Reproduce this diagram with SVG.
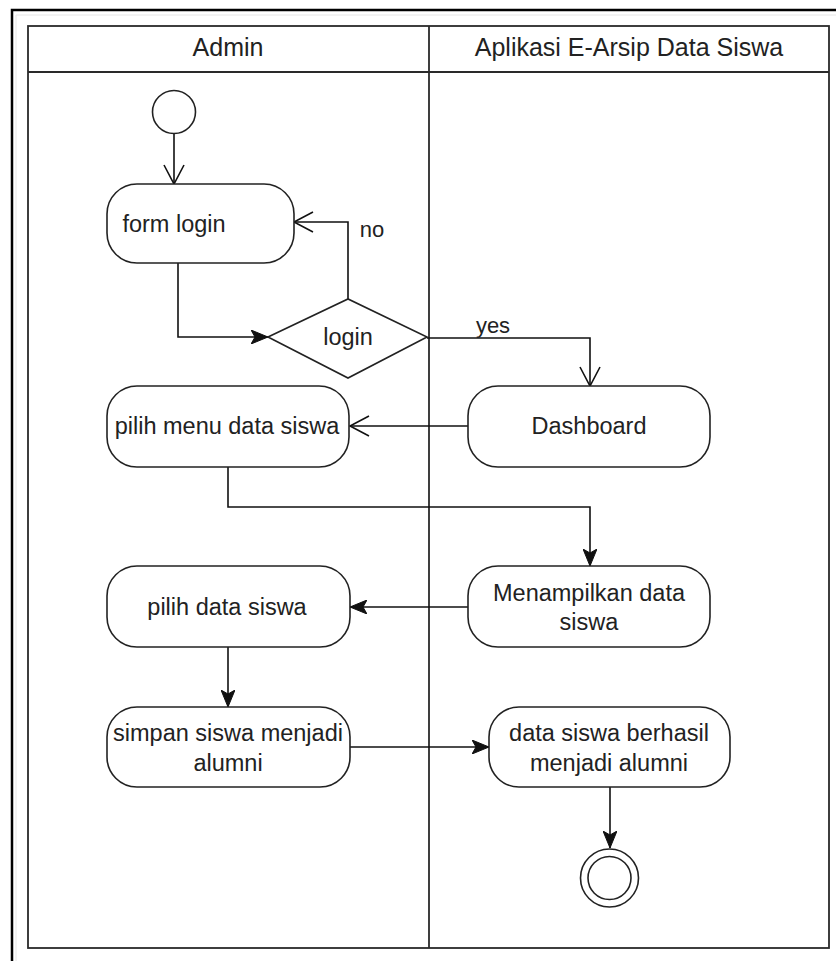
<svg xmlns="http://www.w3.org/2000/svg" width="836" height="961" viewBox="0 0 836 961">
<style>
  text { font-family: "Liberation Sans", Arial, sans-serif; fill: #222; text-anchor: middle; }
  .hdr { font-size: 25px; }
  .lbl { font-size: 23.5px; }
  .elbl { font-size: 22px; }
  .node { fill: #fff; stroke: #222; stroke-width: 1.6; }
  .lane { fill: none; stroke: #2a2a2a; stroke-width: 1.8; }
  .edge { fill: none; stroke: #111; stroke-width: 1.6; }
</style>
<defs>
  <marker id="open" viewBox="0 0 22 22" markerUnits="userSpaceOnUse" markerWidth="22" markerHeight="22" refX="20" refY="11" orient="auto">
    <path d="M1,1 L20,11 L1,21" fill="none" stroke="#111" stroke-width="1.6"/>
  </marker>
  <marker id="filled" viewBox="0 0 18 14" markerUnits="userSpaceOnUse" markerWidth="18" markerHeight="14" refX="17" refY="7" orient="auto">
    <path d="M0,0 L17,7 L0,14 L4,7 Z" fill="#111" stroke="#111" stroke-width="1"/>
  </marker>
</defs>
<rect x="0" y="0" width="836" height="961" fill="#fff"/>
<!-- outer frame -->
<path d="M12,961 L12,10 L836,10" fill="none" stroke="#000" stroke-width="2.5"/>
<path d="M16,961 L16,15 L836,15" fill="none" stroke="#e6e6e6" stroke-width="1"/>
<!-- swimlanes -->
<g id="lanes">
  <rect class="lane" x="28" y="26" width="801" height="922"/>
  <line class="lane" x1="28" y1="72" x2="829" y2="72"/>
  <line class="lane" x1="429" y1="26" x2="429" y2="948"/>
  <text class="hdr" x="228" y="56">Admin</text>
  <text class="hdr" x="629" y="56">Aplikasi E-Arsip Data Siswa</text>
</g>
<!-- connectors -->
<g id="connectors">
  <path class="edge" d="M174,134 L174,184" marker-end="url(#open)"/>
  <path class="edge" d="M178,263 L178,337 L268,337" marker-end="url(#filled)"/>
  <path class="edge" d="M348,299 L348,222 L294,222" marker-end="url(#open)"/>
  <text class="elbl" x="372" y="237">no</text>
  <path class="edge" d="M427,338 L590,338 L590,386" marker-end="url(#open)"/>
  <text class="elbl" x="493" y="333">yes</text>
  <path class="edge" d="M468,426 L350,426" marker-end="url(#open)"/>
  <path class="edge" d="M228,467 L228,507 L590,507 L590,566" marker-end="url(#filled)"/>
  <path class="edge" d="M468,607 L350,607" marker-end="url(#filled)"/>
  <path class="edge" d="M228,647 L228,707" marker-end="url(#filled)"/>
  <path class="edge" d="M350,747 L489,747" marker-end="url(#filled)"/>
  <path class="edge" d="M610,787 L610,848" marker-end="url(#filled)"/>
</g>
<!-- nodes -->
<g id="start">
  <circle class="node" cx="174" cy="112" r="21.5"/>
</g>
<g id="form-login">
  <rect class="node" x="107" y="184" width="187" height="79" rx="30" ry="30"/>
  <text class="lbl" x="174" y="231.5">form login</text>
</g>
<g id="login-decision">
  <polygon class="node" points="268,337 348,299 427,337 348,378"/>
  <text class="lbl" x="348" y="345">login</text>
</g>
<g id="dashboard">
  <rect class="node" x="468" y="386" width="242" height="81" rx="30" ry="30"/>
  <text class="lbl" x="589" y="434">Dashboard</text>
</g>
<g id="pilih-menu">
  <rect class="node" x="107" y="386" width="242" height="81" rx="30" ry="30"/>
  <text class="lbl" x="227" y="434">pilih menu data siswa</text>
</g>
<g id="menampilkan">
  <rect class="node" x="468" y="566" width="242" height="81" rx="30" ry="30"/>
  <text class="lbl" x="589" y="601">Menampilkan data</text>
  <text class="lbl" x="589" y="630">siswa</text>
</g>
<g id="pilih-data">
  <rect class="node" x="107" y="566" width="243" height="81" rx="30" ry="30"/>
  <text class="lbl" x="227" y="615">pilih data siswa</text>
</g>
<g id="simpan">
  <rect class="node" x="107" y="707" width="243" height="80" rx="30" ry="30"/>
  <text class="lbl" x="228" y="741">simpan siswa menjadi</text>
  <text class="lbl" x="228" y="771">alumni</text>
</g>
<g id="berhasil">
  <rect class="node" x="489" y="707" width="241" height="80" rx="30" ry="30"/>
  <text class="lbl" x="609" y="741">data siswa berhasil</text>
  <text class="lbl" x="609" y="771">menjadi alumni</text>
</g>
<g id="end">
  <circle class="node" cx="609.5" cy="878" r="29"/>
  <circle class="node" cx="609.5" cy="878" r="21.5"/>
</g>
</svg>
